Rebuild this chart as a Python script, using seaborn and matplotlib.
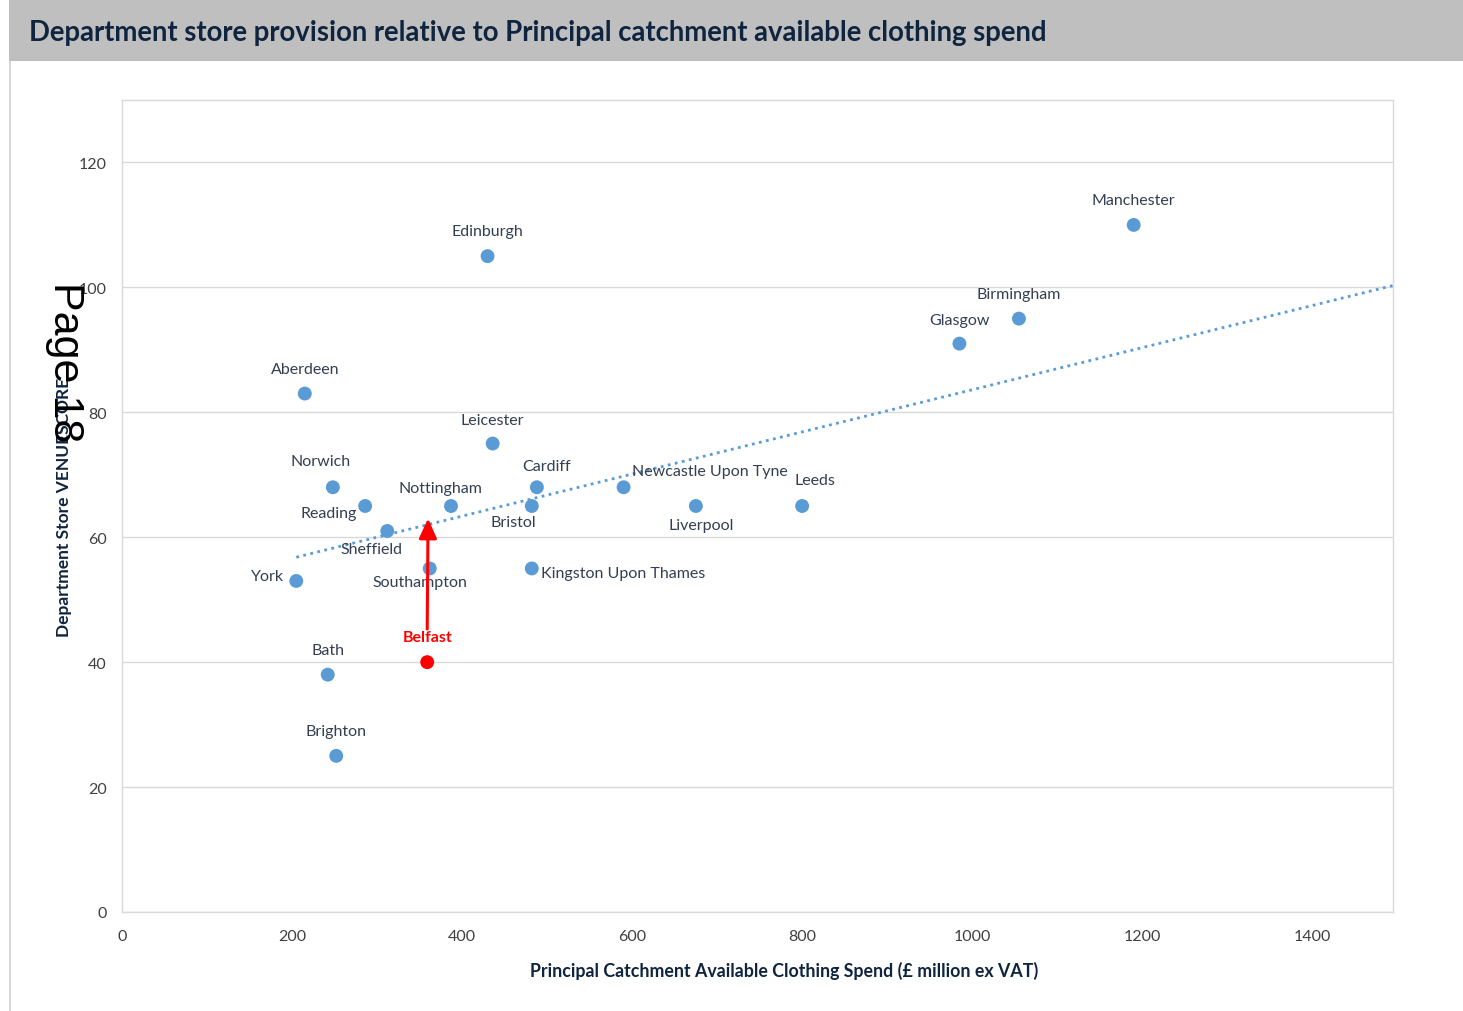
import matplotlib
matplotlib.use("Agg")
import matplotlib.pyplot as plt
import seaborn as sns
import pandas as pd
from matplotlib.patches import Rectangle
from matplotlib.lines import Line2D

# ---- data ----
cities = ["Manchester", "Birmingham", "Glasgow", "Edinburgh", "Aberdeen", "Leicester",
          "Norwich", "Cardiff", "Newcastle Upon Tyne", "Reading", "Nottingham", "Bristol",
          "Liverpool", "Leeds", "Sheffield", "York", "Southampton", "Kingston Upon Thames",
          "Bath", "Brighton"]
spend = [1190, 1055, 985, 430, 215, 436, 248, 488, 590, 286, 387, 482, 675, 800, 312,
         205, 362, 482, 242, 252]
venuescore = [110, 95, 91, 105, 83, 75, 68, 68, 68, 65, 65, 65, 65, 65, 61, 53, 55, 55, 38, 25]

highlight_city = ["Belfast"]
highlight_spend = [359]
highlight_score = [40]
arrow_target_score = [63]

trend_x = [205, 1495]
trend_y = [56.8, 100.3]

x_ticks = [0, 200, 400, 600, 800, 1000, 1200, 1400]
y_ticks = [0, 20, 40, 60, 80, 100, 120]

title = "Department store provision relative to Principal catchment available clothing spend"
x_label = "Principal Catchment Available Clothing Spend (£ million ex VAT)"
y_label = "Department Store VENUESCORE"
page_text = "Page 18"

# ---- label placement (offsets in pixels: dx, dy up-positive, ha) ----
label_pos = {
    "Manchester": (0, 25, "center"), "Birmingham": (0, 25, "center"),
    "Glasgow": (0, 24, "center"), "Edinburgh": (0, 25, "center"),
    "Aberdeen": (0, 25, "center"), "Leicester": (0, 24, "center"),
    "Norwich": (-12, 26, "center"), "Cardiff": (10, 21, "center"),
    "Newcastle Upon Tyne": (8, 16, "left"), "Reading": (-36, -7, "center"),
    "Nottingham": (-11, 18, "center"), "Bristol": (-18, -16, "center"),
    "Liverpool": (5, -19, "center"), "Leeds": (13, 26, "center"),
    "Sheffield": (-16, -18, "center"), "York": (-29, 5, "center"),
    "Southampton": (-10, -14, "center"), "Kingston Upon Thames": (9, -5, "left"),
    "Bath": (0, 25, "center"), "Brighton": (0, 25, "center"),
}

W, H = 1463, 1012
DPI = 100
PT = 72 / DPI

sns.set_theme(style="white")
plt.rcParams["font.family"] = ["Lato", "DejaVu Sans"]

fig = plt.figure(figsize=(W / DPI, H / DPI), dpi=DPI)
fig.patch.set_facecolor("white")

# banner
fig.patches.append(Rectangle((9 / W, 1 - 62 / H), 1 - 9 / W, 61 / H,
                             transform=fig.transFigure, facecolor="#BFBFBF",
                             edgecolor="none", zorder=0))
fig.lines.append(Line2D([9.5 / W, 9.5 / W], [0, 1 - 62 / H], transform=fig.transFigure,
                        color="#D0D0D0", lw=1.2))
fig.text(29 / W, 1 - 33 / H, title, fontsize=19.8, fontweight="bold", color="#0F243E",
         ha="left", va="center")

ax = fig.add_axes([122 / W, 1 - 913 / H, (1393 - 122) / W, (913 - 101) / H])

df = pd.DataFrame({"city": cities, "spend": spend, "score": venuescore})
dfh = pd.DataFrame({"city": highlight_city, "spend": highlight_spend, "score": highlight_score})

ax.plot(trend_x, trend_y, color="#5B9BD5", lw=2.0, linestyle=(0, (1, 1.6)), zorder=2)
sns.scatterplot(data=df, x="spend", y="score", ax=ax, color="#5B9BD5", s=100,
                edgecolor="none", zorder=3)
sns.scatterplot(data=dfh, x="spend", y="score", ax=ax, color="#FF0000", s=100,
                edgecolor="none", zorder=3)

for c, xv, yv in zip(cities, spend, venuescore):
    dx, dy, ha = label_pos[c]
    ax.annotate(c, (xv, yv), xytext=(dx * PT, dy * PT), textcoords="offset points",
                ha=ha, va="center", fontsize=11.5, color="#333F50", zorder=4)

for c, xv, yv, ty in zip(highlight_city, highlight_spend, highlight_score, arrow_target_score):
    ax.annotate(c, (xv, yv), xytext=(0, 25 * PT), textcoords="offset points",
                ha="center", va="center", fontsize=11.5, fontweight="bold",
                color="#FF0000", zorder=4)
    ax.annotate("", xy=(xv + 1, ty), xytext=(xv, yv + 5.3),
                arrowprops=dict(arrowstyle="-|>,head_length=1.0,head_width=0.45",
                                color="#FF0000", lw=2.2, shrinkA=0, shrinkB=0), zorder=5)

ax.set_xlim(0, 1495)
ax.set_ylim(0, 130)
ax.set_xticks(x_ticks)
ax.set_yticks(y_ticks)
ax.grid(axis="y", color="#D9D9D9", lw=1)
ax.grid(axis="x", visible=False)
for sp in ax.spines.values():
    sp.set_visible(True)
    sp.set_color("#D9D9D9")
    sp.set_linewidth(1)
ax.tick_params(axis="both", length=0, labelsize=11.5, labelcolor="#404040")
ax.tick_params(axis="x", pad=12.5)
ax.tick_params(axis="y", pad=11)
ax.set_xlabel("")
ax.set_ylabel("")

fig.text(784 / W, 1 - 971 / H, x_label, fontsize=12.8, fontweight="bold", color="#0F243E",
         ha="center", va="center")
fig.text(64 / W, 1 - 507 / H, y_label, fontsize=12.5, fontweight="bold", color="#0F243E",
         ha="center", va="center", rotation=90)
fig.text(65 / W, 1 - 362 / H, page_text, fontsize=31, color="black", rotation=270,
         ha="center", va="center", family=["Liberation Sans", "DejaVu Sans"])

fig.savefig("out.png", dpi=DPI)
